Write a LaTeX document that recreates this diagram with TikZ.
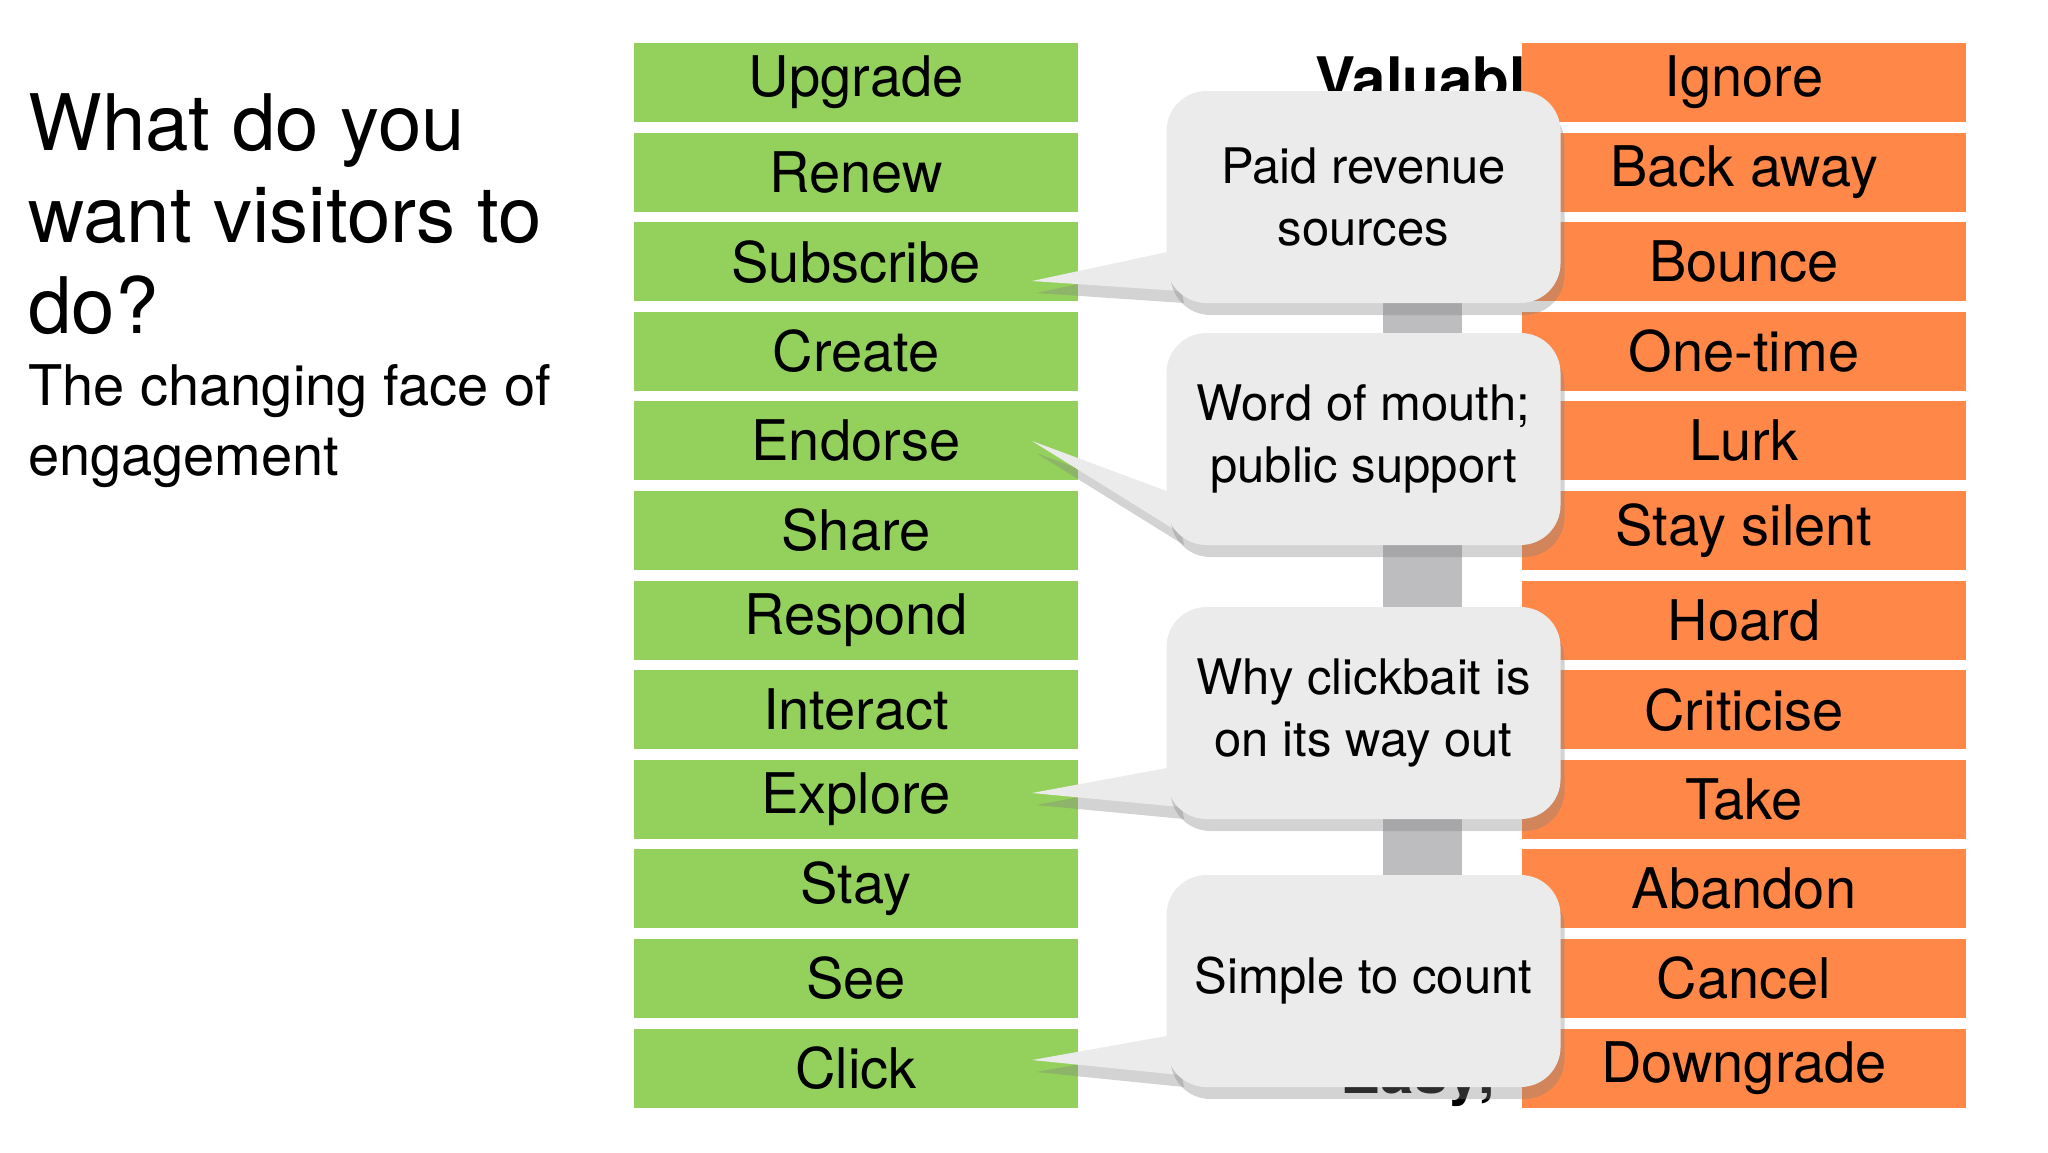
\documentclass[tikz,border=0pt]{standalone}
\usepackage{fontspec}
\setmainfont{TeX Gyre Heros}
\usetikzlibrary{shadows,calc}
\definecolor{grn}{HTML}{94D15C}
\definecolor{org}{HTML}{FF8848}
\definecolor{cfill}{HTML}{EBEBEC}
\definecolor{bar}{HTML}{BDBDBF}
\tikzset{
 box/.style={minimum width=222pt,minimum height=39.5pt,inner sep=0pt,font=\fontsize{28}{30}\selectfont},
 gbox/.style={box,fill=grn},
 obox/.style={box,fill=org},
 callout/.style={fill=cfill,rounded corners=20pt,minimum width=197pt,minimum height=106pt,align=center,inner sep=0pt,font=\fontsize{24.5}{31}\selectfont,drop shadow={shadow xshift=2pt,shadow yshift=-6pt,opacity=0.35}},
 tail/.style={fill=cfill,drop shadow={shadow xshift=2pt,shadow yshift=-6pt,opacity=0.35}},
}
\begin{document}
\begin{tikzpicture}[x=0.5pt,y=-0.5pt]
\useasboundingbox (0,0) rectangle (2048,1152);
% left texts
\node[anchor=base west,inner sep=0pt,align=left,font=\fontsize{39}{46}\selectfont] (t1) at (28,150) {What do you};
\node[anchor=base west,inner sep=0pt,font=\fontsize{39}{46}\selectfont] (t2) at (28,242) {want visitors to};
\node[anchor=base west,inner sep=0pt,font=\fontsize{39}{46}\selectfont] (t3) at (28,333) {do?};
\node[anchor=base west,inner sep=0pt,font=\fontsize{28}{35}\selectfont] (s1) at (28,405) {The changing face of};
\node[anchor=base west,inner sep=0pt,font=\fontsize{28}{35}\selectfont] (s2) at (28,475) {engagement};
% hidden background labels
\fill[bar] (1383,290) rectangle (1462,900);
\node[anchor=base east,inner sep=0pt,font=\bfseries\fontsize{30}{34}\selectfont] (v) at (1560,100) {Valuable};
\node[anchor=base east,inner sep=0pt,font=\bfseries\fontsize{30}{34}\selectfont] (e) at (1495,1093) {Easy,};
% columns
\foreach \g/\o [count=\i from 0] in {Upgrade/Ignore,Renew/Back away,Subscribe/Bounce,Create/One-time,Endorse/Lurk,Share/Stay silent,Respond/Hoard,Interact/Criticise,Explore/Take,Stay/Abandon,See/Cancel,Click/Downgrade}{
 \node[gbox] (g\i) at (856,{82.5+89.6*\i}) {\g};
 \node[obox] (o\i) at (1744,{82.5+89.6*\i}) {\o};
}
% callouts
\foreach \n/\top/\tipy/\txt in {a/91/281/{Paid revenue\\sources},b/333/441/{Word of mouth;\\public support},c/607/793/{Why clickbait is\\on its way out},d/875/1060/{Simple to count}}{
 \coordinate (tip\n) at (1032,\tipy);
 \fill[tail] (1172,{\top+212-52}) -- (tip\n) -- (1180,{\top+212-12}) -- cycle;
 \node[callout] (c\n) at (1363.5,{\top+106}) {\txt};
}
\end{tikzpicture}
\end{document}
